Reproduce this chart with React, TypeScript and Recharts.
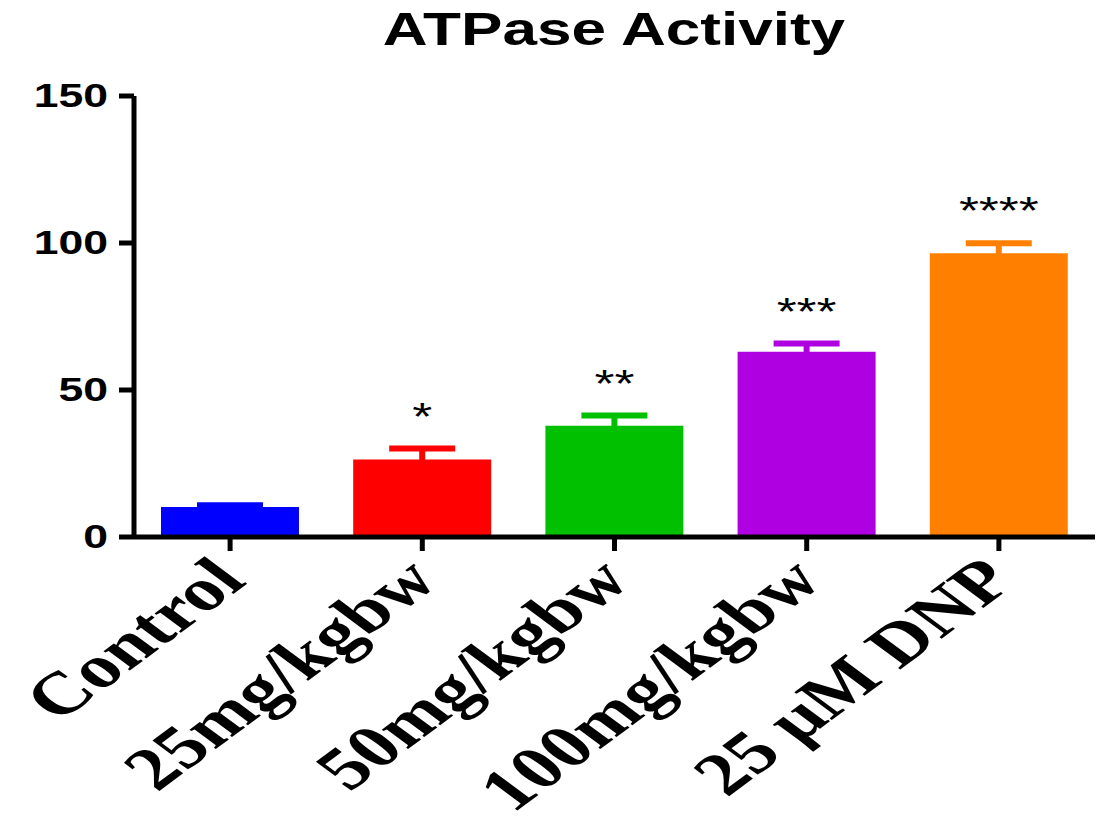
import { BarChart, Bar, XAxis, YAxis, ErrorBar, LabelList, Cell } from "recharts";

// ATPase activity per treatment group, mean ± SEM
const groups = ["Control", "25mg/kgbw", "50mg/kgbw", "100mg/kgbw", "25 μM DNP"];
const activity = [10.2, 26.4, 37.8, 63.0, 96.5];
const sem = [0.6, 3.7, 3.5, 2.8, 3.4];
const stars = ["", "*", "**", "***", "****"];
const colors = ["#0000ff", "#ff0000", "#00c000", "#ae00e0", "#ff8000"];
const yTicks = [0, 50, 100, 150];

const data = groups.map((name, i) => ({ name, activity: activity[i], sem: sem[i] }));

const SANS = "'Liberation Sans', Arial, sans-serif";
const SERIF = "'Liberation Serif', 'Times New Roman', serif";
const SX = 1.35; // all text is drawn wide

// error bars share the bar colour, one rule per bar
const errorBarCss = colors
  .map((c, i) => `.atp-chart .recharts-errorBar:nth-of-type(${i + 1}) line { stroke: ${c}; }`)
  .join("\n");

const YTick = ({ x, y, payload }: any) => (
  <g transform={`translate(${x - 11},${y}) scale(${SX},1)`}>
    <text y={11} textAnchor="end" fontFamily={SANS} fontWeight="bold" fontSize={33} fill="#000">
      {payload.value}
    </text>
  </g>
);

const XTick = ({ x, y, payload }: any) => (
  <g transform={`translate(${x + 18},${y + 32}) scale(${SX},1)`}>
    <text transform="rotate(-45)" textAnchor="end" fontFamily={SERIF} fontWeight="bold" fontSize={60} fill="#000">
      {payload.value}
    </text>
  </g>
);

const StarLabel = ({ x, y, width, height, index }: any) => {
  if (!stars[index]) return null;
  const perUnit = height / activity[index];
  const errTop = y - sem[index] * perUnit;
  return (
    <g transform={`translate(${x + width / 2},${errTop - 19}) scale(${SX},1)`}>
      <text textAnchor="middle" fontFamily={SANS} fontSize={38} fill="#000">
        {stars[index]}
      </text>
    </g>
  );
};

export default function App() {
  return (
    <div
      className="atp-chart"
      style={{ position: "absolute", left: 0, top: 0, width: 1098, height: 824, background: "#fff" }}
    >
      <style>{errorBarCss}</style>
      <BarChart
        width={1098}
        height={824}
        data={data}
        margin={{ top: 96, right: 3, left: 0, bottom: 0 }}
        barCategoryGap={27}
      >
        <XAxis
          dataKey="name"
          interval={0}
          height={287}
          tickSize={14}
          tickMargin={0}
          axisLine={{ stroke: "#000", strokeWidth: 5 }}
          tickLine={{ stroke: "#000", strokeWidth: 5 }}
          tick={(p: any) => <XTick {...p} />}
        />
        <YAxis
          width={134}
          domain={[0, 150]}
          ticks={yTicks}
          interval={0}
          tickSize={15}
          tickMargin={0}
          axisLine={{ stroke: "#000", strokeWidth: 5 }}
          tickLine={{ stroke: "#000", strokeWidth: 5 }}
          tick={(p: any) => <YTick {...p} />}
        />
        <Bar dataKey="activity" isAnimationActive={false}>
          {data.map((_, i) => (
            <Cell key={i} fill={colors[i]} />
          ))}
          <ErrorBar dataKey="sem" width={33} strokeWidth={6} stroke="#000" isAnimationActive={false} />
          <LabelList dataKey="activity" content={(p: any) => <StarLabel {...p} />} />
        </Bar>
      </BarChart>
      <svg
        width={1098}
        height={80}
        style={{ position: "absolute", left: 0, top: 0, pointerEvents: "none" }}
      >
        <g transform={`translate(614,45) scale(${SX},1)`}>
          <text textAnchor="middle" fontFamily={SANS} fontWeight="bold" fontSize={46} fill="#000">
            ATPase Activity
          </text>
        </g>
      </svg>
    </div>
  );
}
